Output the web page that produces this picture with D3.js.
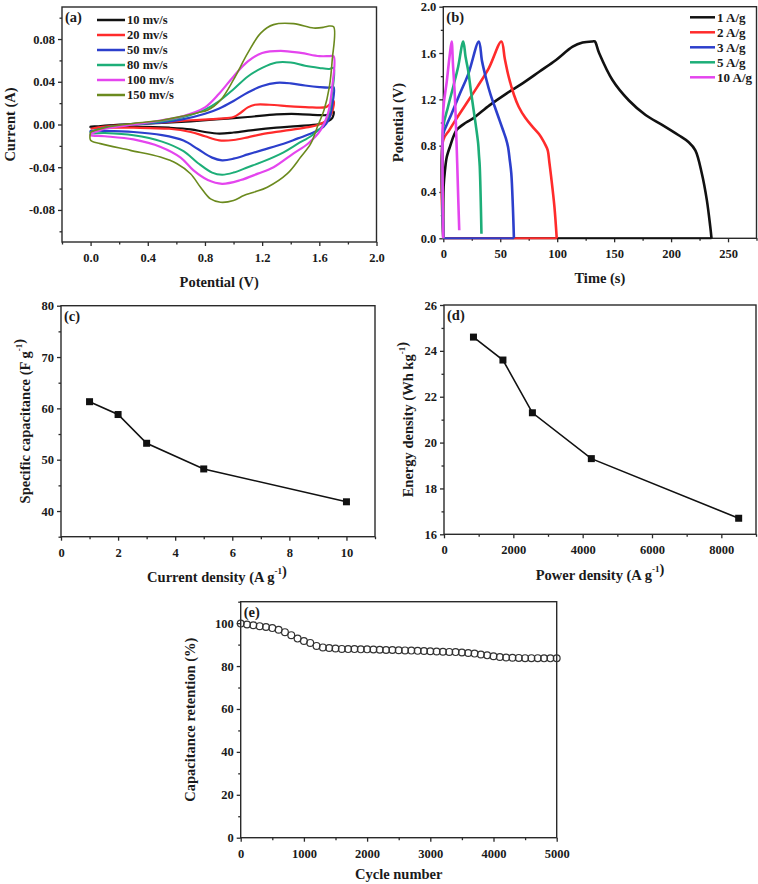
<!DOCTYPE html>
<html><head><meta charset="utf-8">
<script src="https://cdn.jsdelivr.net/npm/d3@7"></script>
<style>
body{margin:0;background:#fff;}
svg text{font-family:"Liberation Serif","Times New Roman",serif !important;font-weight:bold;fill:#1a1a1a;}
</style></head><body>
<svg id="chart" width="758" height="884"></svg>
<script>
// ---------- DATA ----------
// (a) CV loops: [potential V, current A]
const cvLabels = ["10 mv/s","20 mv/s","50 mv/s","80 mv/s","100 mv/s","150 mv/s"];
const cv10 = [[0,-0.003],[0.1,-0.001],[0.3,0.0005],[0.5,0.0015],[0.7,0.003],[0.9,0.005],[1.1,0.007],[1.3,0.0095],[1.45,0.0098],[1.6,0.0088],[1.66,0.009],[1.7,0.012],
  [1.69,0.006],[1.66,0.003],[1.6,0.0005],[1.45,-0.0015],[1.3,-0.003],[1.15,-0.005],[1.0,-0.0075],[0.9,-0.0085],[0.8,-0.007],[0.7,-0.0045],[0.55,-0.003],[0.3,-0.002],[0.1,-0.002],[0,-0.002]];
const cv20 = [[0,-0.004],[0.1,-0.002],[0.3,0.0],[0.5,0.002],[0.7,0.004],[0.9,0.0055],[1.0,0.007],[1.05,0.011],[1.1,0.016],[1.15,0.0185],[1.25,0.0185],[1.4,0.017],[1.55,0.016],[1.65,0.0165],[1.7,0.022],
  [1.69,0.012],[1.66,0.005],[1.6,0.0],[1.5,-0.003],[1.35,-0.006],[1.2,-0.009],[1.1,-0.012],[1.0,-0.0145],[0.9,-0.0148],[0.8,-0.011],[0.7,-0.007],[0.55,-0.004],[0.3,-0.003],[0.1,-0.003],[0,-0.004]];
const cv50 = [[0,-0.007],[0.1,-0.003],[0.3,0.0],[0.5,0.002],[0.65,0.005],[0.8,0.010],[0.9,0.015],[1.0,0.022],[1.1,0.030],[1.2,0.036],[1.3,0.039],[1.4,0.0385],[1.5,0.0365],[1.6,0.035],[1.67,0.0345],[1.7,0.035],
  [1.69,0.018],[1.67,0.006],[1.63,-0.002],[1.55,-0.008],[1.45,-0.013],[1.35,-0.018],[1.2,-0.024],[1.1,-0.028],[1.0,-0.032],[0.92,-0.0335],[0.85,-0.031],[0.75,-0.023],[0.65,-0.015],[0.5,-0.010],[0.3,-0.007],[0.1,-0.006],[0,-0.006]];
const cv80 = [[0,-0.007],[0.1,-0.003],[0.3,0.0],[0.5,0.003],[0.65,0.007],[0.8,0.014],[0.9,0.022],[1.0,0.033],[1.1,0.045],[1.2,0.053],[1.3,0.058],[1.4,0.058],[1.5,0.055],[1.6,0.053],[1.67,0.052],[1.7,0.053],
  [1.69,0.03],[1.67,0.012],[1.63,0.0],[1.55,-0.01],[1.45,-0.018],[1.35,-0.026],[1.2,-0.035],[1.1,-0.040],[1.0,-0.045],[0.92,-0.047],[0.85,-0.045],[0.75,-0.036],[0.65,-0.025],[0.5,-0.016],[0.3,-0.010],[0.1,-0.008],[0,-0.008]];
const cv100 = [[0,-0.009],[0.1,-0.004],[0.3,0.0],[0.5,0.004],[0.65,0.008],[0.8,0.016],[0.9,0.029],[1.0,0.045],[1.1,0.059],[1.2,0.067],[1.33,0.069],[1.47,0.067],[1.6,0.064],[1.67,0.064],[1.7,0.064],
  [1.69,0.035],[1.66,0.01],[1.61,-0.005],[1.52,-0.018],[1.42,-0.027],[1.28,-0.040],[1.17,-0.046],[1.05,-0.052],[0.92,-0.0555],[0.82,-0.052],[0.72,-0.043],[0.63,-0.031],[0.49,-0.021],[0.3,-0.014],[0.1,-0.011],[0,-0.010]];
const cv150 = [[0,-0.007],[0.1,-0.003],[0.3,0.001],[0.5,0.004],[0.65,0.008],[0.75,0.011],[0.82,0.0135],[0.91,0.023],[1.0,0.042],[1.1,0.067],[1.19,0.0856],[1.28,0.0935],[1.42,0.0944],[1.56,0.0903],[1.63,0.091],[1.66,0.092],[1.7,0.0915],
  [1.69,0.06],[1.67,0.035],[1.633,0.0135],[1.586,-0.0023],[1.54,-0.018],[1.47,-0.0305],[1.376,-0.046],[1.236,-0.0587],[1.142,-0.0634],[1.072,-0.0665],[1.0,-0.0712],[0.909,-0.0728],[0.839,-0.0697],[0.769,-0.0587],[0.699,-0.0461],[0.605,-0.0367],[0.488,-0.0305],[0.278,-0.0242],[0.068,-0.0179],[0,-0.0148]];

// (b) GCD curves: [time s, potential V]
const gcdLabels = ["1 A/g","2 A/g","3 A/g","5 A/g","10 A/g"];
const gcd1 = [[0,0],[0.3,0.45],[1.5,0.59],[3,0.7],[5.8,0.79],[11.7,0.935],[20,1.0],[26.2,1.036],[40.8,1.15],[55.4,1.25],[69.9,1.34],[84.5,1.44],[99,1.54],[113.6,1.655],[122.3,1.69],[131,1.70],[133,1.70],
  [136.8,1.6],[148.5,1.367],[163,1.19],[177.6,1.065],[192.1,0.98],[206.7,0.89],[215.5,0.83],[221.3,0.76],[227,0.56],[231.4,0.33],[234.4,0.10],[235.5,0]];
const gcd2 = [[0,0],[0,0.85],[5,0.93],[10,1.01],[20,1.16],[30,1.31],[40,1.47],[51,1.70],
  [54,1.55],[57.4,1.395],[62,1.24],[66.2,1.136],[72,1.04],[78.6,0.96],[84,0.9],[87.3,0.85],[90,0.8],[91.7,0.76],[93.2,0.65],[94.7,0.53],[97.6,0.27],[99.6,0]];
const gcd3 = [[0,0],[0,0.9],[3,0.98],[7,1.07],[14.6,1.25],[22,1.42],[31.2,1.70],
  [34,1.53],[37.9,1.367],[41.5,1.24],[45.2,1.136],[49,1.03],[52.4,0.935],[55,0.86],[56.8,0.79],[58.3,0.68],[59.7,0.56],[61.1,0.27],[62,0]];
const gcd5 = [[0,0],[0,0.96],[4,1.13],[9,1.32],[13,1.48],[17.5,1.70],
  [19.5,1.57],[21.8,1.45],[24,1.29],[26.2,1.136],[28.5,0.98],[30.6,0.82],[31.3,0.72],[32,0.62],[33.5,0.04]];
const gcd10 = [[0,0],[0,1.11],[3,1.35],[5.5,1.57],[7.3,1.70],
  [8.5,1.5],[10.2,1.22],[11.2,0.95],[12.2,0.65],[13.1,0.35],[14,0.07]];

// (c) rate capability
const currentDensity = [1,2,3,5,10];
const specificCap = [61.3,58.8,53.2,48.2,41.8];

// (d) Ragone
const powerDensity = [850,1700,2550,4250,8500];
const energyDensity = [24.6,23.6,21.3,19.3,16.7];

// (e) cycling
const cycleNumber = [0,100,200,300,400,500,600,700,800,900,1000,1100,1200,1300,1400,1500,1600,1700,1800,1900,2000,2100,2200,2300,2400,2500,2600,2700,2800,2900,3000,3100,3200,3300,3400,3500,3600,3700,3800,3900,4000,4100,4200,4300,4400,4500,4600,4700,4800,4900,5000];
const retention = [99.8,99.4,99.0,98.6,98.2,97.7,96.9,95.8,94.4,92.8,91.7,90.8,89.4,88.7,88.4,88.2,88.0,87.9,87.9,87.8,87.8,87.7,87.6,87.5,87.5,87.4,87.3,87.2,87.1,87.0,86.9,86.8,86.7,86.6,86.5,86.3,86.1,85.8,85.4,85.0,84.6,84.2,84.0,83.9,83.8,83.7,83.7,83.7,83.6,83.6,83.6];

// ---------- DRAWING ----------
const svg = d3.select("#chart");
const AX = "#2a2a2a";
const SERIF = '"Liberation Serif","Times New Roman",serif';

function panel(o){
  const g = svg.append("g");
  const x = d3.scaleLinear().domain(o.xDomain).range([o.left,o.right]);
  const y = d3.scaleLinear().domain(o.yDomain).range([o.bottom,o.top]);
  const bx = g.append("g").attr("transform",`translate(0,${o.bottom})`)
    .call(d3.axisBottom(x).tickValues(o.xTicks).tickFormat(o.xFmt).tickSize(4).tickPadding(7));
  const bxm = g.append("g").attr("transform",`translate(0,${o.bottom})`)
    .call(d3.axisBottom(x).tickValues(o.xMinor).tickFormat("").tickSize(2.5));
  const ly = g.append("g").attr("transform",`translate(${o.left},0)`)
    .call(d3.axisLeft(y).tickValues(o.yTicks).tickFormat(o.yFmt).tickSize(4).tickPadding(3));
  const lym = g.append("g").attr("transform",`translate(${o.left},0)`)
    .call(d3.axisLeft(y).tickValues(o.yMinor).tickFormat("").tickSize(2.5));
  [bx,bxm,ly,lym].forEach(a=>{
    a.attr("font-family",SERIF).attr("font-size",12.5).attr("font-weight","bold");
    a.select(".domain").remove();
    a.selectAll("line").attr("stroke",AX).attr("stroke-width",1.3);
    a.selectAll("text").attr("font-size",12.5).attr("font-family",SERIF).attr("font-weight","bold").attr("fill","#1a1a1a");
  });
  g.append("rect").attr("x",o.left).attr("y",o.top).attr("width",o.right-o.left).attr("height",o.bottom-o.top)
    .attr("fill","none").attr("stroke",AX).attr("stroke-width",1.4);
  // titles
  const xt = g.append("text").attr("x",(o.left+o.right)/2 + (o.xtShift||0)).attr("y",o.xtY)
    .attr("text-anchor","middle").attr("dominant-baseline","central").attr("font-size",14.5);
  addTitle(xt,o.xTitle);
  const yt = g.append("text").attr("transform",`translate(${o.ytX},${(o.top+o.bottom)/2 + (o.ytShift||0)}) rotate(-90)`)
    .attr("text-anchor","middle").attr("dominant-baseline","central").attr("font-size",14.5);
  addTitle(yt,o.yTitle);
  g.append("text").attr("x",o.left+3).attr("y",o.top+15).attr("font-size",14.5).text(o.tag);
  return {g,x,y};
}
function addTitle(t,parts){
  parts.forEach(p=>{
    if(typeof p==="string") t.append("tspan").text(p);
    else { t.append("tspan").attr("font-size",9).attr("dy",-6).text(p.sup);
           t.append("tspan").attr("dy",6).text(""); }
  });
}
const f1 = v=>v.toFixed(1), f2 = v=>v.toFixed(2), f0 = v=>String(v);

// Panel (a)
const A = panel({left:62,right:376.5,top:7,bottom:242,xDomain:[-0.2,2.0],yDomain:[-0.11,0.11],
  xTicks:[0,0.4,0.8,1.2,1.6,2.0],xMinor:[-0.2,0.2,0.6,1.0,1.4,1.8],xFmt:f1,
  yTicks:[-0.08,-0.04,0,0.04,0.08],yMinor:[-0.1,-0.06,-0.02,0.02,0.06,0.1],yFmt:f2,
  xTitle:["Potential (V)"],xtY:282,yTitle:["Current (A)"],ytX:10,ytShift:0,tag:"(a)"});
const cvSets = [cv10,cv20,cv50,cv80,cv100,cv150];
const cvColors = ["#111111","#ff2b2b","#2c3fcc","#1dae78","#e445ee","#6b8a1e"];
const cvWidths = [2.2,2.2,2.2,2,2.2,1.6];
const lineA = d3.line().x(d=>A.x(d[0])).y(d=>A.y(d[1])).curve(d3.curveCatmullRom.alpha(0.5));
cvSets.forEach((s,i)=>{
  A.g.append("path").attr("d",lineA(s.concat([s[0]]))).attr("fill","none")
    .attr("stroke",cvColors[i]).attr("stroke-width",cvWidths[i]).attr("stroke-linejoin","round");
});
cvLabels.forEach((l,i)=>{
  const yy = 20 + i*15;
  A.g.append("line").attr("x1",97).attr("x2",125).attr("y1",yy).attr("y2",yy).attr("stroke",cvColors[i]).attr("stroke-width",2.5);
  A.g.append("text").attr("x",127).attr("y",yy).attr("dy","0.35em").attr("font-size",12.5).text(l);
});

// Panel (b)
const B = panel({left:443.3,right:756.5,top:6.7,bottom:238.3,xDomain:[0,275],yDomain:[0,2],
  xTicks:[0,50,100,150,200,250],xMinor:[25,75,125,175,225,275],xFmt:f0,
  yTicks:[0,0.4,0.8,1.2,1.6,2.0],yMinor:[0.2,0.6,1.0,1.4,1.8],yFmt:f1,
  xTitle:["Time (s)"],xtY:278,yTitle:["Potential (V)"],ytX:398,tag:"(b)"});
const gcdSets = [gcd1,gcd2,gcd3,gcd5,gcd10];
const gcdColors = ["#111111","#ff2b2b","#2c3fcc","#1dae78","#e445ee"];
const lineB = d3.line().x(d=>B.x(d[0])).y(d=>B.y(d[1])).curve(d3.curveCatmullRom.alpha(0.5));
gcdSets.forEach((s,i)=>{
  const last = s[s.length-1];
  if(last[1]===0){
    B.g.append("line").attr("x1",B.x(0)).attr("x2",B.x(last[0])).attr("y1",B.y(0)).attr("y2",B.y(0))
      .attr("stroke",gcdColors[i]).attr("stroke-width",2);
  }
  B.g.append("path").attr("d",lineB(s)).attr("fill","none")
    .attr("stroke",gcdColors[i]).attr("stroke-width",2.6).attr("stroke-linejoin","round");
});
gcdLabels.forEach((l,i)=>{
  const yy = 17.3 + i*15;
  B.g.append("line").attr("x1",690).attr("x2",715).attr("y1",yy).attr("y2",yy).attr("stroke",gcdColors[i]).attr("stroke-width",2.5);
  B.g.append("text").attr("x",717).attr("y",yy).attr("dy","0.35em").attr("font-size",13).text(l);
});

// Panel (c)
const C = panel({left:61,right:375,top:305.7,bottom:536.7,xDomain:[0,11],yDomain:[35,80],
  xTicks:[0,2,4,6,8,10],xMinor:[1,3,5,7,9,11],xFmt:f0,
  yTicks:[40,50,60,70,80],yMinor:[35,45,55,65,75],yFmt:f0,
  xTitle:["Current density (A g",{sup:"-1"},")"],xtY:577,xtShift:-1,
  yTitle:["Specific capacitance (F g",{sup:"-1"},")"],ytX:25,tag:"(c)"});
const cData = currentDensity.map((v,i)=>[v,specificCap[i]]);
C.g.append("path").attr("d",d3.line().x(d=>C.x(d[0])).y(d=>C.y(d[1]))(cData))
  .attr("fill","none").attr("stroke","#111").attr("stroke-width",1.6);
C.g.selectAll("rect.pt").data(cData).join("rect").attr("class","pt")
  .attr("x",d=>C.x(d[0])-3.5).attr("y",d=>C.y(d[1])-3.5).attr("width",7).attr("height",7).attr("fill","#111");

// Panel (d)
const D = panel({left:444,right:756,top:305,bottom:534.3,xDomain:[0,9000],yDomain:[16,26],
  xTicks:[0,2000,4000,6000,8000],xMinor:[1000,3000,5000,7000,9000],xFmt:f0,
  yTicks:[16,18,20,22,24,26],yMinor:[17,19,21,23,25],yFmt:f0,
  xTitle:["Power density (A g",{sup:"-1"},")"],xtY:575,xtShift:0,
  yTitle:["Energy density (Wh kg",{sup:"-1"},")"],ytX:408,tag:"(d)"});
const dData = powerDensity.map((v,i)=>[v,energyDensity[i]]);
D.g.append("path").attr("d",d3.line().x(d=>D.x(d[0])).y(d=>D.y(d[1]))(dData))
  .attr("fill","none").attr("stroke","#111").attr("stroke-width",1.6);
D.g.selectAll("rect.pt").data(dData).join("rect").attr("class","pt")
  .attr("x",d=>D.x(d[0])-3.5).attr("y",d=>D.y(d[1])-3.5).attr("width",7).attr("height",7).attr("fill","#111");

// Panel (e)
const E = panel({left:240.7,right:556.7,top:601.7,bottom:837.7,xDomain:[0,5000],yDomain:[0,110],
  xTicks:[0,1000,2000,3000,4000,5000],xMinor:[500,1500,2500,3500,4500],xFmt:f0,
  yTicks:[0,20,40,60,80,100],yMinor:[10,30,50,70,90,110],yFmt:f0,
  xTitle:["Cycle number"],xtY:874,yTitle:["Capacitance retention (%)"],ytX:190,tag:"(e)"});
const eData = cycleNumber.map((v,i)=>[v,retention[i]]);
E.g.selectAll("circle.pt").data(eData).join("circle").attr("class","pt")
  .attr("cx",d=>E.x(d[0])).attr("cy",d=>E.y(d[1])).attr("r",3.4)
  .attr("fill","none").attr("stroke","#333").attr("stroke-width",1.2);
</script>
</body></html>
